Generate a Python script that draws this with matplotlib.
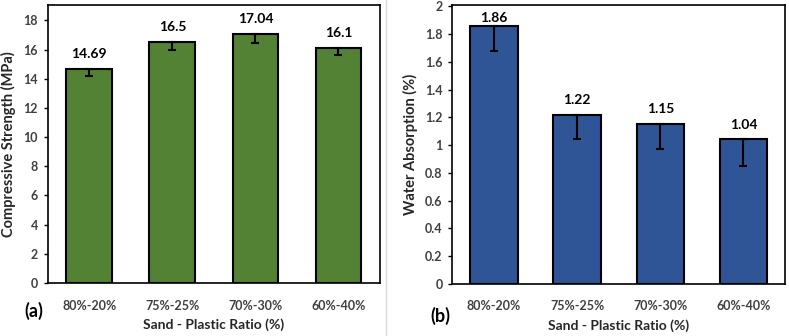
import matplotlib
matplotlib.use("Agg")
import matplotlib.pyplot as plt
from matplotlib.lines import Line2D

plt.rcParams['font.family'] = ['Lato', 'DejaVu Sans']

categories = ["80%-20%", "75%-25%", "70%-30%", "60%-40%"]
strength = [14.69, 16.5, 17.04, 16.1]
strength_err = [0.51, 0.54, 0.56, 0.48]
absorption = [1.86, 1.22, 1.15, 1.04]
absorption_err = [0.18, 0.18, 0.18, 0.19]
labels_a = ["14.69", "16.5", "17.04", "16.1"]
labels_b = ["1.86", "1.22", "1.15", "1.04"]

W, H = 789, 336
fig = plt.figure(figsize=(W/100, H/100), dpi=100)

tick_color = '#404040'

def make(ax_rect, vals, errs, labels, color, ymax, yticks, ylabel, panel, panel_xy, width, pad_frac):
    ax = fig.add_axes(ax_rect)
    x = range(len(categories))
    ax.bar(x, vals, width=width, color=color, edgecolor='black', linewidth=1.5, zorder=2)
    ax.errorbar(x, vals, yerr=[errs, [0]*len(errs)], fmt='none', ecolor='black',
                elinewidth=1.5, capsize=3, capthick=1.5, zorder=3)
    ax.set_xlim(-0.5, len(categories) - 0.5)
    ax.set_ylim(0, ymax)
    ax.set_yticks(yticks)
    ax.set_yticklabels([f"{t:g}" for t in yticks])
    ax.set_xticks(list(x))
    ax.set_xticklabels(categories)
    for lab in ax.get_xticklabels() + ax.get_yticklabels():
        lab.set_fontweight('bold')
        lab.set_color(tick_color)
        lab.set_fontsize(9)
    ax.tick_params(axis='x', length=0, pad=12)
    ax.tick_params(axis='y', length=3, width=1, pad=4, color='black')
    for s in ax.spines.values():
        s.set_linewidth(1.2)
        s.set_color('black')
    ax.set_ylabel(ylabel, fontsize=10.5, fontweight='bold', color='#262626', labelpad=5)
    ax.set_xlabel("Sand - Plastic Ratio (%)", fontsize=10, fontweight='bold', color='#262626', labelpad=5)
    top_lim = ymax * 0.955
    for i, (v, lab) in enumerate(zip(vals, labels)):
        y = min(v + ymax * pad_frac, top_lim)
        ax.text(i, y, lab, ha='center', va='center', fontsize=10, fontweight='bold', color='black')
    fig.text(panel_xy[0] / W, 1 - panel_xy[1] / H, panel, ha='center', va='center',
             fontsize=13, fontweight='bold', color='black')
    return ax

make([47.7/W, 1 - 283/H, (380 - 47.7)/W, (283 - 5)/H], strength, strength_err, labels_a,
     '#548235', 19.05, list(range(0, 19, 2)), "Compressive Strength (MPa)", "(a)", (34, 311), 0.55, 0.054)
make([452.3/W, 1 - 283.7/H, (785 - 452.3)/W, (283.7 - 5)/H], absorption, absorption_err, labels_b,
     '#2F5597', 2.01, [0, 0.2, 0.4, 0.6, 0.8, 1.0, 1.2, 1.4, 1.6, 1.8, 2.0], "Water Absorption (%)", "(b)",
     (440, 316), 0.57, 0.053)

fig.add_artist(Line2D([385.5/W, 385.5/W], [0, 1], transform=fig.transFigure, color='#d9d9d9', linewidth=1))

fig.savefig("out.png", dpi=100)
